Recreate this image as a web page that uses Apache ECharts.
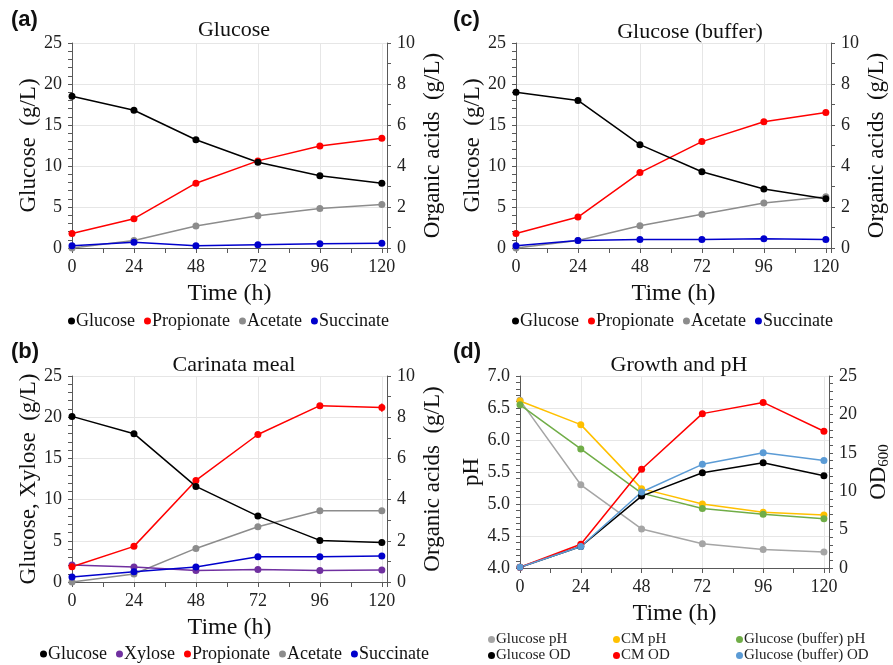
<!DOCTYPE html>
<html>
<head>
<meta charset="utf-8">
<script src="https://cdn.jsdelivr.net/npm/echarts@6/dist/echarts.min.js"></script>
<style>
  html, body { margin: 0; padding: 0; background: #fff; }
  #chart { width: 893px; height: 665px; }
</style>
</head>
<body>
<div id="chart"></div>
<script>
// sampling times (h)
var hours = [0, 24, 48, 72, 96, 120];

// (a) Glucose
var glucA = [18.5, 16.8, 13.2, 10.45, 8.8, 7.9];
var propA = [0.71, 1.43, 3.16, 4.25, 4.98, 5.35];
var acetA = [0, 0.37, 1.07, 1.57, 1.93, 2.12];
var succA = [0.11, 0.28, 0.11, 0.16, 0.21, 0.23];

// (c) Glucose (buffer)
var glucC = [19.0, 18.0, 12.6, 9.3, 7.2, 6.0];
var propC = [0.71, 1.51, 3.68, 5.19, 6.16, 6.61];
var acetC = [0, 0.37, 1.09, 1.65, 2.2, 2.5];
var succC = [0.11, 0.36, 0.41, 0.42, 0.45, 0.42];

// (b) Carinata meal
var glucB = [20.1, 18.0, 11.6, 8.0, 5.05, 4.8];
var xylB = [2.06, 1.82, 1.41, 1.53, 1.41, 1.45];
var propB = [0.74, 1.73, 4.93, 7.16, 8.56, 8.47];
var acetB = [0, 0.39, 1.63, 2.68, 3.46, 3.46];
var succB = [0.24, 0.5, 0.73, 1.23, 1.23, 1.26];
// visible error bars (b), +/- g/L
var propBErr = [0, 0, 0, 0, 0.05, 0.2];
var acetBErr = [0, 0, 0, 0, 0.1, 0.12];

// (d) Growth and pH
var glucPH = [6.62, 5.30, 4.61, 4.38, 4.29, 4.25];
var cmPH = [6.61, 6.24, 5.24, 5.0, 4.87, 4.83];
var bufPH = [6.55, 5.86, 5.17, 4.93, 4.84, 4.77];
var glucOD = [0.1, 2.8, 9.36, 12.4, 13.7, 12.0];
var cmOD = [0.1, 3.1, 12.85, 20.1, 21.56, 17.8];
var bufOD = [0.1, 2.8, 9.9, 13.5, 15.0, 14.0];

var SERIF = '"Liberation Serif", "Times New Roman", serif';
var AXC = '#595959';

function pts(ys) {
  return hours.map(function (h, i) { return [h, ys[i]]; });
}

// x axis: every 24 h labelled, ticks every 12 h
function xAx(grid) {
  return {
    type: 'value', gridIndex: grid, min: 0, max: 122, interval: 24,
    name: 'Time (h)', nameLocation: 'middle', nameGap: 34,
    nameTextStyle: { fontFamily: SERIF, fontSize: 24, color: '#111' },
    axisLine: { onZero: false, lineStyle: { color: AXC } },
    axisTick: { length: 5, lineStyle: { color: AXC } },
    minorTick: { show: true, splitNumber: 2, length: 5, lineStyle: { color: AXC } },
    axisLabel: {
      margin: 10, fontFamily: SERIF, fontSize: 18, color: '#222',
      formatter: function (v) { return v % 24 === 0 && v <= 120 ? String(v) : ''; }
    },
    splitLine: { show: true, lineStyle: { color: '#e6e6e6' } }
  };
}

function yAx(grid, pos, min, max, step, minor, name, gap, digits, gridLines) {
  return {
    type: 'value', gridIndex: grid, position: pos, min: min, max: max, interval: step,
    name: name, nameLocation: 'middle', nameGap: gap, nameRotate: 90,
    nameTextStyle: { fontFamily: SERIF, fontSize: 23, color: '#111',
      rich: {
        a: { fontFamily: SERIF, fontSize: 23, color: '#111' },
        s: { fontFamily: SERIF, fontSize: 15, color: '#111', verticalAlign: 'bottom', padding: [12, 0, 0, 0] }
      } },
    axisLine: { show: true, lineStyle: { color: AXC } },
    axisTick: { show: true, length: 4, lineStyle: { color: AXC } },
    minorTick: { show: true, splitNumber: minor, length: 4, lineStyle: { color: AXC } },
    axisLabel: {
      margin: 10, fontFamily: SERIF, fontSize: 18, color: '#222',
      formatter: function (v) { return v.toFixed(digits); }
    },
    splitLine: { show: gridLines, lineStyle: { color: '#e6e6e6' } }
  };
}

function line(name, ys, color, xi, yi) {
  return {
    type: 'line', name: name, data: pts(ys), xAxisIndex: xi, yAxisIndex: yi,
    symbol: 'circle', symbolSize: 7, showSymbol: true,
    lineStyle: { color: color, width: 1.5 },
    itemStyle: { color: color },
    emphasis: { disabled: true }, animation: false
  };
}

function errBars(ys, errs, color, xi, yi) {
  return {
    type: 'custom', xAxisIndex: xi, yAxisIndex: yi, silent: true, z: 3,
    data: hours.map(function (h, i) { return [h, ys[i], errs[i]]; }),
    renderItem: function (params, api) {
      var x = api.value(0), y = api.value(1), e = api.value(2);
      if (!e) return null;
      var lo = api.coord([x, y - e]), hi = api.coord([x, y + e]);
      return {
        type: 'line',
        shape: { x1: lo[0], y1: lo[1], x2: hi[0], y2: hi[1] },
        style: { stroke: color, lineWidth: 1.5 }
      };
    }
  };
}

function trimName(n) { return n.trim(); }

function leg(items, opts) {
  var base = {
    data: items, icon: 'circle', itemWidth: 7, itemHeight: 7, itemGap: 9, padding: 0,
    formatter: trimName,
    textStyle: { fontFamily: SERIF, fontSize: 18, color: '#111', padding: [0, 0, 0, -4] },
    selectedMode: false
  };
  for (var k in opts) base[k] = opts[k];
  return base;
}

var smallLeg = { fontFamily: SERIF, fontSize: 15, color: '#222', padding: [0, 0, 0, -4] };

var titleStyle = { fontFamily: SERIF, fontSize: 22, fontWeight: 'normal', color: '#111' };
var tagStyle = { fontFamily: '"Liberation Sans", Arial, sans-serif', fontSize: 22, fontWeight: 'bold', color: '#111' };

var chart = echarts.init(document.getElementById('chart'), null, { renderer: 'canvas' });
chart.setOption({
  backgroundColor: '#fff',
  animation: false,
  textStyle: { fontFamily: SERIF },
  title: [
    { text: 'Glucose', left: 229, top: 14, textAlign: 'center', textStyle: titleStyle },
    { text: 'Glucose (buffer)', left: 685, top: 16, textAlign: 'center', textStyle: titleStyle },
    { text: 'Carinata meal', left: 229, top: 349, textAlign: 'center', textStyle: titleStyle },
    { text: 'Growth and pH', left: 674, top: 349, textAlign: 'center', textStyle: titleStyle },
    { text: '(a)', left: 6, top: 4, textStyle: tagStyle },
    { text: '(c)', left: 448, top: 4, textStyle: tagStyle },
    { text: '(b)', left: 6, top: 336, textStyle: tagStyle },
    { text: '(d)', left: 448, top: 336, textStyle: tagStyle }
  ],
  grid: [
    { left: 72, top: 43, width: 315, height: 205 },
    { left: 516, top: 43, width: 315, height: 205 },
    { left: 72, top: 376, width: 315, height: 206 },
    { left: 520, top: 376, width: 311, height: 192 }
  ],
  legend: [
    leg(['Glucose', 'Propionate', 'Acetate', 'Succinate'], { left: 68, top: 312 }),
    leg(['Glucose ', 'Propionate ', 'Acetate ', 'Succinate '], { left: 512, top: 312 }),
    leg(['Glucose  ', 'Xylose', 'Propionate  ', 'Acetate  ', 'Succinate  '], { left: 40, top: 645 }),
    leg(['Glucose pH', 'Glucose OD'],
      { left: 488, top: 632, height: 40, orient: 'vertical', itemGap: 1, textStyle: smallLeg }),
    leg(['CM pH', 'CM OD'],
      { left: 613, top: 632, height: 40, orient: 'vertical', itemGap: 1, textStyle: smallLeg }),
    leg(['Glucose (buffer) pH', 'Glucose (buffer) OD'],
      { left: 736, top: 632, height: 40, orient: 'vertical', itemGap: 1, textStyle: smallLeg })
  ],
  xAxis: [xAx(0), xAx(1), xAx(2), xAx(3)],
  yAxis: [
    yAx(0, 'left', 0, 25, 5, 5, 'Glucose  (g/L)', 30, 0, true),
    yAx(0, 'right', 0, 10, 2, 2, 'Organic acids  (g/L)', 34, 0, false),
    yAx(1, 'left', 0, 25, 5, 5, 'Glucose  (g/L)', 30, 0, true),
    yAx(1, 'right', 0, 10, 2, 2, 'Organic acids  (g/L)', 34, 0, false),
    yAx(2, 'left', 0, 25, 5, 5, 'Glucose, Xylose  (g/L)', 32, 0, true),
    yAx(2, 'right', 0, 10, 2, 2, 'Organic acids  (g/L)', 34, 0, false),
    yAx(3, 'left', 4, 7, 0.5, 5, 'pH', 37, 1, true),
    yAx(3, 'right', 0, 25, 5, 5, '{a|OD}{s|600}', 36, 0, false)
  ],
  series: [
    line('Acetate', acetA, '#8c8c8c', 0, 1),
    line('Succinate', succA, '#0000cc', 0, 1),
    line('Propionate', propA, '#ff0000', 0, 1),
    line('Glucose', glucA, '#000000', 0, 0),

    line('Acetate ', acetC, '#8c8c8c', 1, 3),
    line('Succinate ', succC, '#0000cc', 1, 3),
    line('Propionate ', propC, '#ff0000', 1, 3),
    line('Glucose ', glucC, '#000000', 1, 2),

    line('Acetate  ', acetB, '#8c8c8c', 2, 5),
    line('Xylose', xylB, '#7030a0', 2, 4),
    line('Succinate  ', succB, '#0000cc', 2, 5),
    line('Propionate  ', propB, '#ff0000', 2, 5),
    line('Glucose  ', glucB, '#000000', 2, 4),
    errBars(propB, propBErr, '#ff0000', 2, 5),
    errBars(acetB, acetBErr, '#8c8c8c', 2, 5),

    line('Glucose pH', glucPH, '#a5a5a5', 3, 6),
    line('CM pH', cmPH, '#ffc000', 3, 6),
    line('Glucose (buffer) pH', bufPH, '#70ad47', 3, 6),
    line('Glucose OD', glucOD, '#000000', 3, 7),
    line('CM OD', cmOD, '#ff0000', 3, 7),
    line('Glucose (buffer) OD', bufOD, '#5b9bd5', 3, 7)
  ]
});
</script>
</body>
</html>
